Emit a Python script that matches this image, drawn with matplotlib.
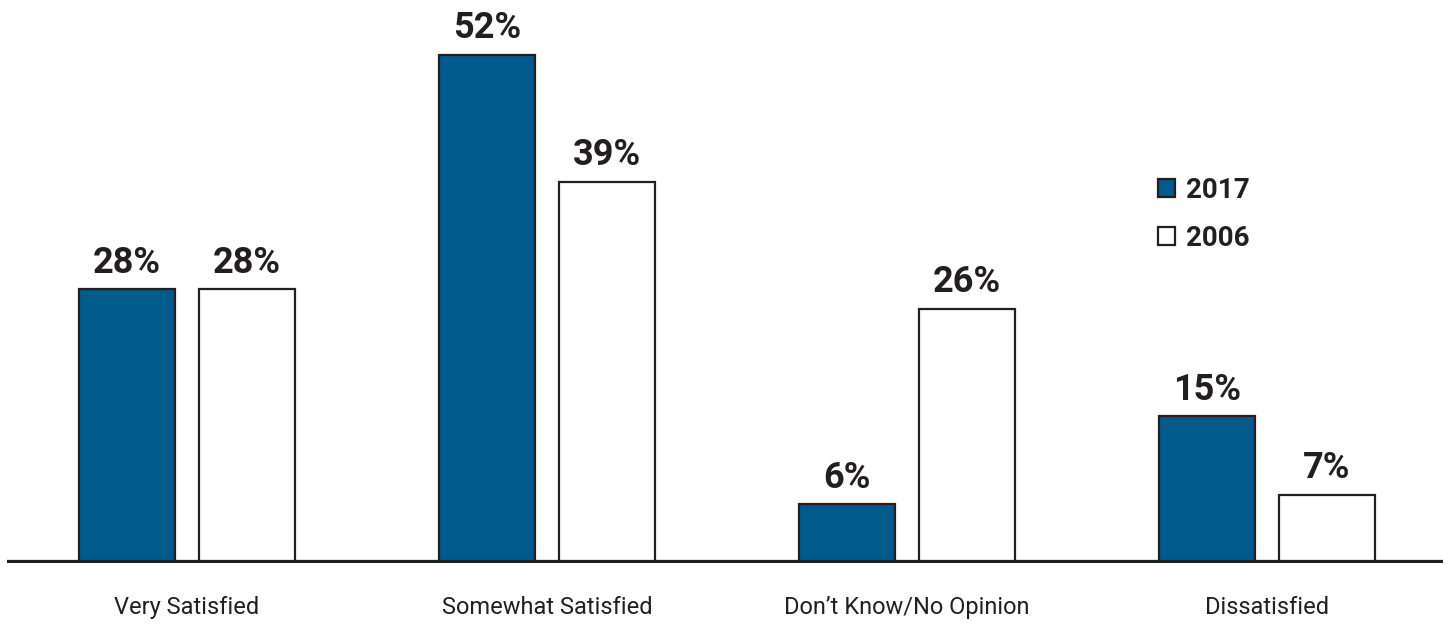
import matplotlib
matplotlib.use("Agg")
from matplotlib import pyplot as plt
from matplotlib.patches import Patch
import numpy as np

plt.rcParams['font.family'] = ['Liberation Sans Narrow', 'Roboto', 'DejaVu Sans']

categories = ["Very Satisfied", "Somewhat Satisfied", "Don\u2019t Know/No Opinion", "Dissatisfied"]
values_2017 = [28, 52, 6, 15]
values_2006 = [28, 39, 26, 7]
series_names = ["2017", "2006"]

blue = "#005a8c"
edge = "#231f20"

fig = plt.figure(figsize=(14.5, 6.27), dpi=100)
ax = fig.add_axes([7/1450, 64/627, 1436/1450, 563/627])

x = np.arange(len(categories))
w = 0.267
off = 1/6

b1 = ax.bar(x - off, values_2017, w, color=blue, edgecolor=edge, linewidth=1.6, zorder=2)
b2 = ax.bar(x + off, values_2006, w, color="white", edgecolor=edge, linewidth=1.6, zorder=2)

for bars, vals in [(b1, values_2017), (b2, values_2006)]:
    for bar, v in zip(bars, vals):
        ax.text(bar.get_x() + bar.get_width()/2, v + 0.9, f"{v}%",
                ha="center", va="bottom", fontsize=26, fontweight="bold", color=edge)

ax.axhline(0, color=edge, linewidth=4.5, zorder=3)

ax.set_xlim(-0.5, 3.489)
ax.set_ylim(0, 57.6)
for s in ax.spines.values():
    s.set_visible(False)
ax.set_yticks([])
ax.set_xticks(x)
ax.set_xticklabels(categories, fontsize=17, color=edge)
ax.tick_params(axis="x", length=0, pad=24)

handles = [Patch(facecolor=blue, edgecolor=edge, linewidth=1.6),
           Patch(facecolor="white", edgecolor=edge, linewidth=1.6)]
leg = fig.legend(handles, series_names, loc="upper left", bbox_to_anchor=(1133/1450, 1 - 152/627),
                 frameon=False, handlelength=0.6, handleheight=0.6, handletextpad=0.4,
                 labelspacing=0.75, prop={"size": 20, "weight": "bold"})
for t in leg.get_texts():
    t.set_color(edge)

fig.savefig("out.png", dpi=100)
